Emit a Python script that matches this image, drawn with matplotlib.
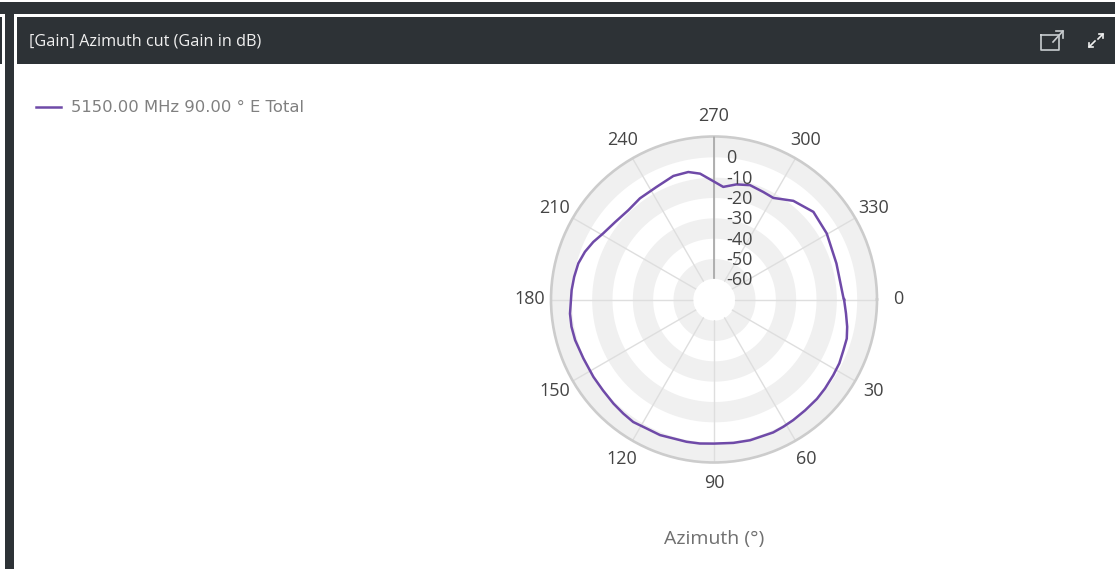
import numpy as np
import matplotlib
matplotlib.use("Agg")
import matplotlib.pyplot as plt
from matplotlib.patches import Rectangle
from matplotlib.lines import Line2D

azimuth = [0, 6, 11.6, 16.4, 21.4, 27, 32.4, 38.7, 44, 50.6, 56.7, 61.4, 66, 75.6, 82.3, 90, 95.6,
           100.9, 111.7, 117.6, 123.4, 128.5, 134, 140.7, 147.3, 155.7, 163.7, 169.2, 174.4,
           183.8, 189.2, 194.9, 200.3, 205.5, 210.8, 218, 226.2, 233.8, 243, 251.8, 258.6, 263.7,
           269.7, 274.7, 281, 287.5, 294.6, 300.3, 308.8, 318.6, 329.6, 343.6, 358.8]
gain = [-6.2, -4.9, -3.3, -2.1, -1.8, -1.0, -0.7, -0.2, 0.2, 0.4, 0.8, 1.1, 1.4, 1.3, 1.0, 0.7, 1.0,
        1.1, 1.6, 1.4, 2.0, 1.5, 1.0, 0.4, 0.3, 0.3, 1.0, 1.2, 1.0,
        0.0, -0.5, -1.1, -2.5, -4.4, -6.7, -8.4, -9.3, -8.5, -8.0, -6.2, -6.2, -7.9,
        -12.0, -14.6, -12.5, -11.2, -12.0, -12.3, -7.9, -5.0, -5.9, -7.4, -6.6]
angle_ticks = list(range(0, 360, 30))
gain_ticks = [0, -10, -20, -30, -40, -50, -60]
grey_bands = [(-60, -50), (-40, -30), (-20, -10), (0, 10)]

W, H = 1115, 569
DARK = "#2d3236"
fig = plt.figure(figsize=(W / 100, H / 100), dpi=100, facecolor="white")


def px_rect(x0, y0, x1, y1, color):
    fig.add_artist(Rectangle((x0 / W, 1 - y1 / H), (x1 - x0) / W, (y1 - y0) / H,
                             transform=fig.transFigure, color=color, lw=0))


def px_line(xs, ys, color="#c9cdd0", lw=1.2):
    fig.add_artist(Line2D([x / W for x in xs], [1 - y / H for y in ys],
                          transform=fig.transFigure, color=color, lw=lw))


# page chrome around the panel
px_rect(0, 2, W, 14, DARK)
px_rect(5, 14, 14, H, DARK)
px_rect(0, 17, 2, 64, DARK)
px_rect(17, 17, W, 64, DARK)
fig.text(29 / W, 1 - 41 / H, "[Gain] Azimuth cut (Gain in dB)", color="#f0f0f0",
         fontsize=11.7, family="Open Sans", va="center")

# open in new window icon
px_line([1041, 1059, 1059, 1041, 1041], [35, 35, 50, 50, 35])
px_line([1053, 1063], [42, 31])
px_line([1056, 1063, 1063], [31, 31, 38])
# expand icon
px_line([1089, 1095], [47, 41], color="#f0f0f0")
px_line([1089, 1089, 1093], [43, 47, 47], color="#f0f0f0")
px_line([1098, 1103], [39, 34], color="#f0f0f0")
px_line([1099, 1103, 1103], [34, 34, 38], color="#f0f0f0")

# polar plot, 163 px outer radius around (714, 299.5)
cx, cy, R = 714, 299.5, 163
ax = fig.add_axes([(cx - R) / W, 1 - (cy + R) / H, 2 * R / W, 2 * R / H], projection="polar")
ax.set_theta_zero_location("E")
ax.set_theta_direction(-1)
ax.set_rorigin(-70.16)
ax.set_rlim(-60, 10)

full = np.linspace(0, 2 * np.pi, 361)
for lo, hi in grey_bands:
    ax.fill_between(full, lo, hi, color="#f0f0f0", lw=0, zorder=1)

ax.set_xticks(np.deg2rad(angle_ticks))
ax.set_xticklabels([str(a) for a in angle_ticks], fontsize=13, color="#444444", family="Open Sans")
ax.tick_params(axis="x", pad=8, length=0)
ax.set_yticks(gain_ticks)
ax.set_yticklabels([])
ax.grid(False)
ax.xaxis.grid(True, color="#dedede", lw=1, zorder=2)
ax.yaxis.grid(False)
ax.spines["polar"].set_color("#cccccc")
ax.spines["polar"].set_linewidth(1.9)
ax.spines["inner"].set_linewidth(0)
ax.patch.set_alpha(0)

ax.plot([1.5 * np.pi, 1.5 * np.pi], [-60, 10], color="#aaaaaa", lw=1.3, zorder=3)
for g in gain_ticks:
    ax.annotate(str(g), (1.5 * np.pi, g), xytext=(8.5, -1), textcoords="offset points",
                ha="left", va="center", fontsize=13, color="#444444",
                family="Open Sans", zorder=6)

theta = np.deg2rad(azimuth + azimuth[:1])
line, = ax.plot(theta, gain + gain[:1], color="#6f4aa8", lw=1.8, zorder=5, solid_joinstyle="round",
                label="5150.00 MHz 90.00 ° E Total")

fig.legend(handles=[line], loc="center left", bbox_to_anchor=(36 / W, 1 - 108 / H), frameon=False,
           fontsize=11.8, labelcolor="#808080", handlelength=1.53, handletextpad=0.6,
           borderpad=0, borderaxespad=0)

fig.text(714 / W, 1 - 539 / H, "Azimuth (°)", color="#707070", fontsize=14,
         family="Open Sans", ha="center", va="center")

fig.savefig("out.png", dpi=100, facecolor="white")
